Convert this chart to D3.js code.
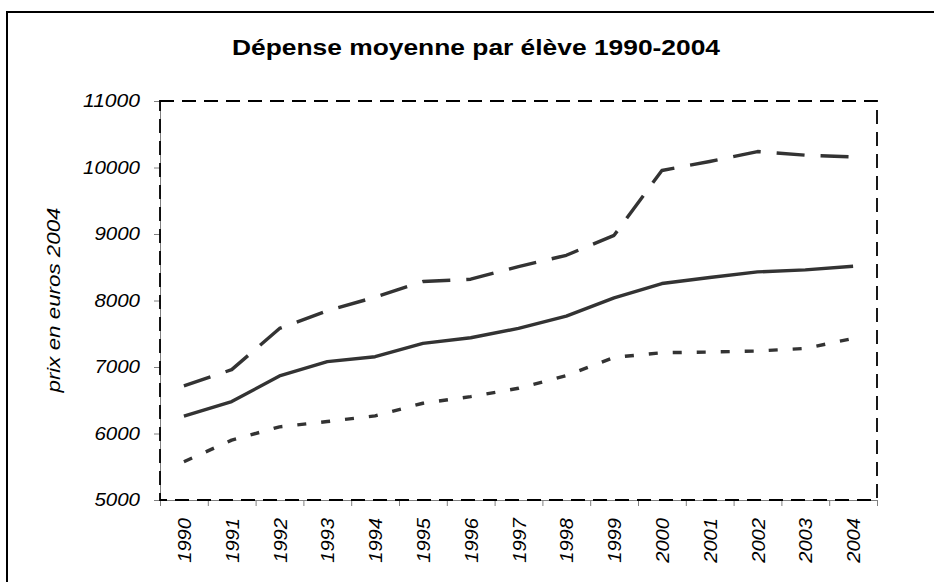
<!DOCTYPE html>
<html><head><meta charset="utf-8">
<script src="https://cdn.jsdelivr.net/npm/d3@7/dist/d3.min.js"></script>
<style>body{margin:0;background:#fff}svg{display:block}</style>
</head><body><svg id="c" width="934" height="582"></svg>
<script>
const years = ["1990","1991","1992","1993","1994","1995","1996","1997","1998","1999","2000","2001","2002","2003","2004"];
const moyenne = [6260, 6480, 6865, 7080, 7155, 7355, 7440, 7580, 7765, 8040, 8255, 8345, 8430, 8460, 8515];
const haute = [6715, 6960, 7580, 7845, 8050, 8285, 8320, 8510, 8680, 8980, 9955, 10090, 10240, 10185, 10160];
const basse = [5575, 5900, 6100, 6180, 6265, 6455, 6555, 6680, 6870, 7145, 7215, 7225, 7240, 7280, 7430];
const yTicks = [5000, 6000, 7000, 8000, 9000, 10000, 11000];
const title = "Dépense moyenne par élève 1990-2004";
const yTitle = "prix en euros 2004";

const svg = d3.select("#c");
const L = 160, R = 877, T = 101, B = 500;
const font = "'Liberation Sans', Arial, sans-serif";

// outer frame
svg.append("rect").attr("x", 7).attr("y", 12).attr("width", 960).attr("height", 620)
  .attr("fill", "none").attr("stroke", "#000").attr("stroke-width", 2);

const x = d3.scaleBand().domain(years).range([L, R]).padding(0);
const xb = d3.scaleLinear().domain([0, years.length]).range([L, R]);
const y = d3.scaleLinear().domain([5000, 11000]).range([B, T]);

// title
svg.append("text").attr("x", 476).attr("y", 55).attr("text-anchor", "middle")
  .attr("font-family", font).attr("font-weight", "bold").attr("font-size", 22.5)
  .attr("textLength", 488).attr("lengthAdjust", "spacingAndGlyphs").text(title);

// y axis
const ya = svg.append("g").attr("transform", `translate(${L},0)`)
  .call(d3.axisLeft(y).tickValues(yTicks).tickFormat(d3.format("d")).tickSize(6).tickPadding(14).tickSizeOuter(0));
ya.select(".domain").attr("stroke", "#808080");
ya.selectAll(".tick line").attr("stroke", "#808080");
ya.selectAll(".tick text").attr("font-family", font).attr("font-style", "italic")
  .attr("font-size", 18.5).attr("fill", "#000")
  .attr("textLength", d => String(d).length * 11.4).attr("lengthAdjust", "spacingAndGlyphs");

// x axis (boundary ticks)
const xa = svg.append("g").attr("transform", `translate(0,${B})`)
  .call(d3.axisBottom(xb).tickValues(d3.range(years.length + 1)).tickSize(6).tickFormat("").tickSizeOuter(0));
xa.select(".domain").attr("stroke", "#808080");
xa.selectAll(".tick line").attr("stroke", "#808080");

svg.append("g").selectAll("text").data(years).join("text")
  .attr("transform", d => `translate(${x(d) + x.bandwidth() / 2 + 7},518) rotate(-90)`)
  .attr("text-anchor", "end").attr("font-family", font).attr("font-style", "italic")
  .attr("font-size", 18.5).attr("textLength", d => d.length * 11.2).attr("lengthAdjust", "spacingAndGlyphs")
  .text(d => d);

// y title
svg.append("text").attr("transform", "translate(59.5,300) rotate(-90)")
  .attr("text-anchor", "middle").attr("font-family", font).attr("font-style", "italic")
  .attr("font-size", 17.5).attr("textLength", 185).attr("lengthAdjust", "spacingAndGlyphs")
  .text(yTitle);

// plot border dashed
svg.append("rect").attr("x", L).attr("y", T).attr("width", R - L).attr("height", B - T)
  .attr("fill", "none").attr("stroke", "#000").attr("stroke-width", 1.8).attr("stroke-dasharray", "14,8");

const line = d3.line().x((d, i) => x(years[i]) + x.bandwidth() / 2).y(d => y(d));
const series = [
  {data: haute, dash: "28,16"},
  {data: moyenne, dash: null},
  {data: basse, dash: "9,15"}
];
svg.append("g").selectAll("path").data(series).join("path")
  .attr("d", s => line(s.data)).attr("fill", "none").attr("stroke", "#333")
  .attr("stroke-width", 3.4).attr("stroke-linejoin", "round")
  .attr("stroke-dasharray", s => s.dash);
</script></body></html>
